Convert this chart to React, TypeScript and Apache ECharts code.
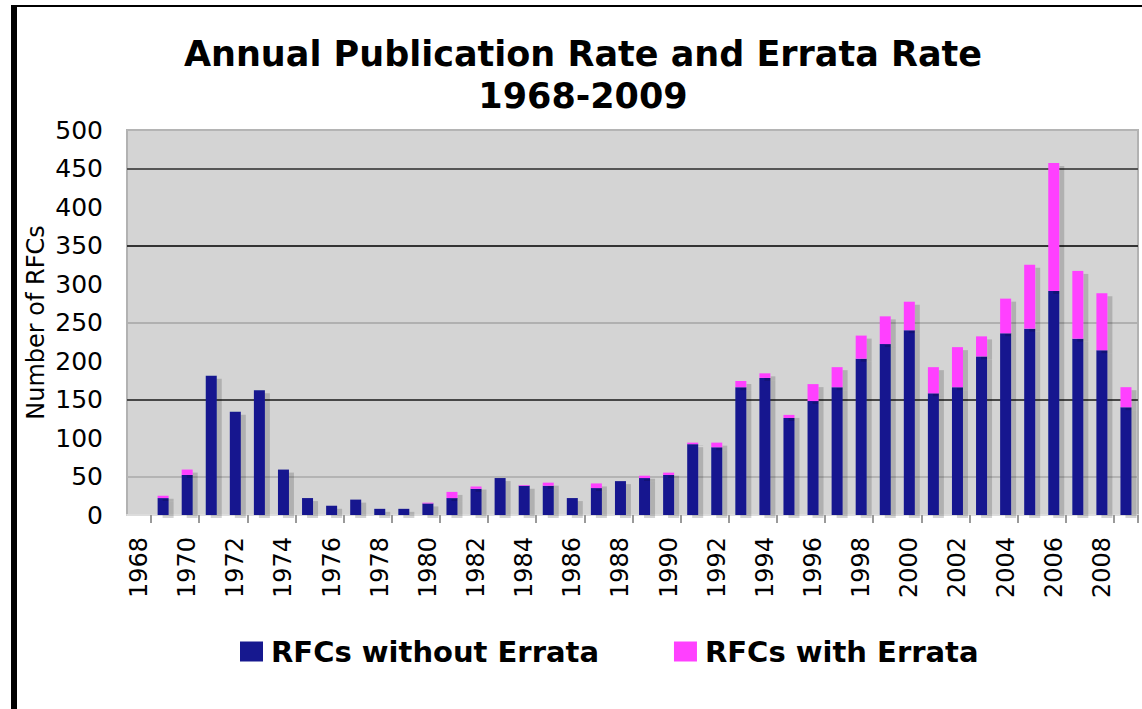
import React, { useEffect, useRef } from "react";
import * as echarts from "echarts";

const years = [
  "1968", "1969", "1970", "1971", "1972", "1973", "1974", "1975", "1976", "1977",
  "1978", "1979", "1980", "1981", "1982", "1983", "1984", "1985", "1986", "1987",
  "1988", "1989", "1990", "1991", "1992", "1993", "1994", "1995", "1996", "1997",
  "1998", "1999", "2000", "2001", "2002", "2003", "2004", "2005", "2006", "2007",
  "2008", "2009",
];

const withoutErrata = [
  0, 22, 52, 181, 134, 162, 59, 22, 12, 20,
  8, 8, 15, 22, 34, 48, 38, 38, 22, 35,
  44, 48, 52, 92, 88, 166, 178, 126, 148, 166,
  203, 222, 240, 158, 166, 206, 236, 242, 291, 229,
  214, 140,
];

const withErrata = [
  0, 3, 7, 0, 0, 0, 0, 0, 0, 0,
  0, 0, 1, 8, 3, 0, 1, 4, 0, 6,
  0, 3, 3, 2, 6, 8, 6, 4, 22, 26,
  30, 36, 37, 34, 52, 26, 45, 83, 166, 88,
  74, 26,
];

const seriesNames = ["RFCs without Errata", "RFCs with Errata"];
const titleText = "Annual Publication Rate and Errata Rate\n1968-2009";
const yAxisName = "Number of RFCs";

const FONT = "DejaVu Sans, Verdana, sans-serif";

export default function App() {
  const ref = useRef<HTMLDivElement>(null);

  useEffect(() => {
    document.body.style.margin = "0";
    const chart = echarts.init(ref.current!, null, { renderer: "svg" });
    const shadow = {
      shadowColor: "rgba(0,0,0,0.17)",
      shadowOffsetX: 5,
      shadowOffsetY: 3,
      shadowBlur: 0,
    };
    chart.setOption({
      animation: false,
      backgroundColor: "#ffffff",
      title: {
        text: titleText,
        left: 583,
        top: 33,
        padding: 0,
        textAlign: "center",
        textStyle: {
          fontFamily: FONT,
          fontSize: 35,
          fontWeight: "bold",
          color: "#000000",
          lineHeight: 42,
        },
      },
      legend: {
        left: 240,
        top: 637,
        padding: 0,
        itemWidth: 23,
        itemHeight: 20,
        itemGap: 75,
        icon: "rect",
        textStyle: {
          fontFamily: FONT,
          fontSize: 29,
          fontWeight: "bold",
          color: "#000000",
          padding: [0, 0, 0, 3],
        },
        data: seriesNames,
      },
      grid: {
        left: 127,
        right: 4,
        top: 130,
        bottom: 194,
        show: true,
        backgroundColor: "#d4d4d4",
        borderColor: "#b2b2b2",
        borderWidth: 2,
      },
      xAxis: {
        type: "category",
        data: years,
        boundaryGap: true,
        axisLine: { show: true, lineStyle: { color: "#dcdcdc", width: 2 } },
        axisTick: {
          show: true,
          length: 8,
          interval: (index: number) => index % 2 === 1,
          lineStyle: { color: "#9a9a9a", width: 2 },
        },
        axisLabel: {
          rotate: 90,
          interval: (index: number) => index % 2 === 0,
          margin: 22,
          fontFamily: FONT,
          fontSize: 24,
          color: "#000000",
        },
        splitLine: { show: false },
      },
      yAxis: {
        type: "value",
        min: 0,
        max: 500,
        interval: 50,
        name: yAxisName,
        nameLocation: "middle",
        nameGap: 79,
        nameMoveOverlap: false,
        nameTextStyle: {
          fontFamily: FONT,
          fontSize: 24,
          color: "#000000",
        },
        axisLine: { show: false },
        axisTick: { show: false },
        axisLabel: {
          margin: 24,
          fontFamily: FONT,
          fontSize: 25,
          color: "#000000",
        },
        splitLine: {
          show: true,
          lineStyle: {
            width: 2,
            color: [
              "rgba(0,0,0,0)",
              "#b4b4b4",
              "rgba(0,0,0,0)",
              "#474747",
              "rgba(0,0,0,0)",
              "#b0b0b0",
              "rgba(0,0,0,0)",
              "#333333",
              "rgba(0,0,0,0)",
              "#555555",
              "#b4b4b4",
            ],
          },
        },
      },
      series: [
        {
          name: seriesNames[0],
          type: "bar",
          stack: "total",
          barWidth: 11,
          data: withoutErrata,
          itemStyle: { color: "#16188f", ...shadow },
        },
        {
          name: seriesNames[1],
          type: "bar",
          stack: "total",
          barWidth: 11,
          data: withErrata,
          itemStyle: { color: "#ff40ff", ...shadow },
        },
      ],
      graphic: [
        {
          type: "rect",
          shape: { x: 11, y: 5, width: 6, height: 704 },
          style: { fill: "#000000" },
          silent: true,
        },
        {
          type: "rect",
          shape: { x: 11, y: 5, width: 1131, height: 2 },
          style: { fill: "#000000" },
          silent: true,
        },
      ],
    });
    return () => chart.dispose();
  }, []);

  return (
    <div
      ref={ref}
      style={{ position: "absolute", left: 0, top: 0, width: 1142, height: 709 }}
    />
  );
}
